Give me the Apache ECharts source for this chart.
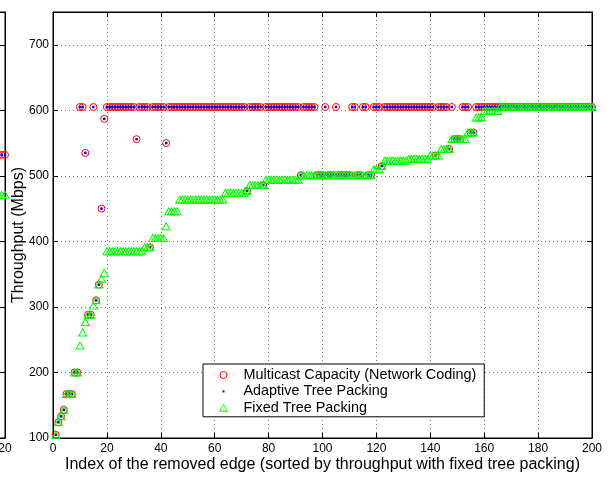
<!DOCTYPE html>
<html><head><meta charset="utf-8">
<script src="https://cdn.jsdelivr.net/npm/echarts@6/dist/echarts.min.js"></script>
<style>html,body{margin:0;padding:0;background:#fff}#c{width:610px;height:479px}</style>
</head><body><div id="c"></div>
<script>
// ---- data ----
const seriesNames = ['Multicast Capacity (Network Coding)', 'Adaptive Tree Packing', 'Fixed Tree Packing'];

// index of the removed edge, 1..200
const edgeIndex = Array.from({length: 200}, (_, i) => i + 1);

const multicastCapacity = [
  105,124,133,143,167,167,167,200,200,605,
  605,535,288,288,605,310,334,450,587,605,
  605,605,605,605,605,605,605,605,605,605,
  556,605,605,605,605,391,605,605,605,605,
  605,550,605,605,605,605,605,605,605,605,
  605,605,605,605,605,605,605,605,605,605,
  605,605,605,605,605,605,605,605,605,605,
  605,477,605,605,605,605,605,486,605,605,
  605,605,605,605,605,605,605,605,605,605,
  605,501,605,605,605,605,605,501,501,501,
  605,501,501,501,605,501,501,501,501,501,
  605,605,501,501,605,605,501,501,605,605,
  605,515,605,605,605,605,605,605,605,605,
  605,605,605,605,605,605,605,605,605,605,
  605,531,605,605,605,605,541,605,556,556,
  556,605,605,605,566,566,605,605,605,605,
  605,605,605,605,605,605,605,605,605,605,
  605,605,605,605,605,605,605,605,605,605,
  605,605,605,605,605,605,605,605,605,605,
  605,605,605,605,605,605,605,605,605,605
];

const adaptiveTreePacking = [
  105,124,133,143,167,167,167,200,200,605,
  605,535,288,288,605,310,334,450,587,605,
  605,605,605,605,605,605,605,605,605,605,
  556,605,605,605,605,391,605,605,605,605,
  605,550,605,605,605,605,605,605,605,605,
  605,605,605,605,605,605,605,605,605,605,
  605,605,605,605,605,605,605,605,605,605,
  605,477,605,605,605,605,605,486,605,605,
  605,605,605,605,605,605,605,605,605,605,
  605,501,605,605,605,605,605,501,501,501,
  605,501,501,501,605,501,501,501,501,501,
  605,605,501,501,605,605,501,501,605,605,
  605,515,605,605,605,605,605,605,605,605,
  605,605,605,605,605,605,605,605,605,605,
  605,531,605,605,605,605,541,605,556,556,
  556,605,605,605,566,566,605,605,605,605,
  605,605,605,605,605,605,605,605,605,605,
  605,605,605,605,605,605,605,605,605,605,
  605,605,605,605,605,605,605,605,605,605,
  605,605,605,605,605,605,605,605,605,605
];

const fixedTreePacking = [
  105,124,133,143,167,167,167,200,200,241,
  261,277,288,288,302,310,334,343,352,385,
  385,385,385,385,385,385,385,385,385,385,
  385,385,385,391,391,391,405,405,405,405,
  405,423,446,446,446,446,464,464,464,464,
  464,464,464,464,464,464,464,464,464,464,
  464,464,464,474,474,474,474,474,474,474,
  474,477,486,486,486,486,486,486,494,494,
  494,494,494,494,494,494,494,494,494,494,
  494,501,501,501,501,501,501,501,501,501,
  501,501,501,501,501,501,501,501,501,501,
  501,501,501,501,501,501,501,501,510,510,
  510,515,523,523,523,523,523,523,523,523,
  523,526,526,526,526,526,526,526,526,531,
  531,531,531,541,541,541,541,556,556,556,
  556,556,556,566,566,566,589,589,589,599,
  599,599,599,599,599,605,605,605,605,605,
  605,605,605,605,605,605,605,605,605,605,
  605,605,605,605,605,605,605,605,605,605,
  605,605,605,605,605,605,605,605,605,605
];

// the cut-off neighbouring panel at the far left
const leftPanelIndex = [19.5, 19.75, 20];
const leftPanelCapacity = [532, 532, 532];
const leftPanelAdaptive = [532, 532, 532];
const leftPanelFixed = [471, 471, 471];

// ---- chart ----
const FONT = 'Liberation Sans, Arial, Helvetica, sans-serif';
const pairs = (xs, ys) => xs.map((x, i) => [x, ys[i]]);

const redStyle = {color: 'rgba(0,0,0,0)', borderColor: '#ff0000', borderWidth: 1, opacity: 1};
const blueStyle = {color: '#0000ff', borderWidth: 0, opacity: 1};
const greenStyle = {color: 'rgba(0,0,0,0)', borderColor: '#00ff00', borderWidth: 1, opacity: 1};

const gridLine = {show: true, lineStyle: {color: '#777', width: 1, type: [1, 3]}};
const blackLine = {show: true, onZero: false, lineStyle: {color: '#000', width: 1}};
const inTick = {show: true, inside: true, length: 5, lineStyle: {color: '#000', width: 1}};

const chart = echarts.init(document.getElementById('c'), null, {renderer: 'canvas'});
chart.setOption({
  animation: false,
  backgroundColor: '#fff',
  textStyle: {fontFamily: FONT},
  grid: [
    {left: 53, top: 12, width: 539, height: 426, show: true, borderColor: '#000', borderWidth: 1,
     containLabel: false, outerBoundsMode: 'none'},
    {left: -265, top: 12, width: 270, height: 426, show: true, borderColor: '#000', borderWidth: 1,
     containLabel: false, outerBoundsMode: 'none'}
  ],
  xAxis: [
    {gridIndex: 0, type: 'value', min: 0, max: 200, interval: 20, position: 'bottom',
     axisLine: blackLine, axisTick: inTick, splitLine: gridLine,
     axisLabel: {color: '#000', fontSize: 12, margin: 5, fontFamily: FONT},
     name: 'Index of the removed edge (sorted by throughput with fixed tree packing)',
     nameLocation: 'middle', nameGap: 19, nameMoveOverlap: false,
     nameTextStyle: {color: '#000', fontSize: 16, fontFamily: FONT}},
    {gridIndex: 0, type: 'value', min: 0, max: 200, interval: 20, position: 'top',
     axisLine: blackLine, axisTick: inTick, splitLine: {show: false}, axisLabel: {show: false}},
    {gridIndex: 1, type: 'value', min: 0, max: 20, interval: 20, position: 'bottom',
     axisLine: blackLine, axisTick: inTick, splitLine: {show: false},
     axisLabel: {color: '#000', fontSize: 12, margin: 5, fontFamily: FONT}}
  ],
  yAxis: [
    {gridIndex: 0, type: 'value', min: 100, max: 750, interval: 100, position: 'left',
     axisLine: blackLine, axisTick: inTick, splitLine: gridLine,
     axisLabel: {color: '#000', fontSize: 12, margin: 4, showMaxLabel: false, fontFamily: FONT},
     name: 'Throughput (Mbps)', nameLocation: 'middle', nameGap: 26, nameMoveOverlap: false,
     nameTextStyle: {color: '#000', fontSize: 16, fontFamily: FONT, padding: [0, 20, 0, 0]}},
    {gridIndex: 0, type: 'value', min: 100, max: 750, interval: 100, position: 'right',
     axisLine: blackLine, axisTick: inTick, splitLine: {show: false}, axisLabel: {show: false}},
    {gridIndex: 1, type: 'value', min: 100, max: 750, interval: 100, position: 'right',
     axisLine: blackLine, axisTick: inTick, splitLine: {show: false}, axisLabel: {show: false}}
  ],
  legend: {
    left: 203, top: 364, orient: 'vertical',
    backgroundColor: '#fff', borderColor: '#000', borderWidth: 1, borderRadius: 0,
    padding: [4, 8, 2, 5], itemGap: 2.4, itemWidth: 30, itemHeight: 10,
    selectedMode: false,
    textStyle: {color: '#000', fontSize: 14.4, fontFamily: FONT},
    data: [
      {name: seriesNames[0], icon: 'path://M0,0 M30,10 M11.5,5 a3.5,3.5 0 1,0 7,0 a3.5,3.5 0 1,0 -7,0 Z', itemStyle: redStyle},
      {name: seriesNames[1], icon: 'path://M0,0 M30,10 M14,4 L16,4 L16,6 L14,6 Z', itemStyle: blueStyle},
      {name: seriesNames[2], icon: 'path://M0,0 M30,10 M15,1.5 L19,8.5 L11,8.5 Z', itemStyle: greenStyle}
    ]
  },
  series: [
    {name: seriesNames[0], type: 'scatter', xAxisIndex: 0, yAxisIndex: 0, silent: true,
     symbol: 'circle', symbolSize: 7, itemStyle: redStyle, z: 2,
     data: pairs(edgeIndex, multicastCapacity)},
    {name: seriesNames[1], type: 'scatter', xAxisIndex: 0, yAxisIndex: 0, silent: true,
     symbol: 'rect', symbolSize: 2.5, itemStyle: blueStyle, z: 3,
     data: pairs(edgeIndex, adaptiveTreePacking)},
    {name: seriesNames[2], type: 'scatter', xAxisIndex: 0, yAxisIndex: 0, silent: true,
     symbol: 'triangle', symbolSize: [8, 7], itemStyle: greenStyle, z: 4,
     data: pairs(edgeIndex, fixedTreePacking)},
    {name: seriesNames[0], type: 'scatter', xAxisIndex: 2, yAxisIndex: 2, silent: true,
     symbol: 'circle', symbolSize: 7, itemStyle: redStyle, z: 2,
     data: pairs(leftPanelIndex, leftPanelCapacity)},
    {name: seriesNames[1], type: 'scatter', xAxisIndex: 2, yAxisIndex: 2, silent: true,
     symbol: 'rect', symbolSize: 2.5, itemStyle: blueStyle, z: 3,
     data: pairs(leftPanelIndex, leftPanelAdaptive)},
    {name: seriesNames[2], type: 'scatter', xAxisIndex: 2, yAxisIndex: 2, silent: true,
     symbol: 'triangle', symbolSize: [8, 7], itemStyle: greenStyle, z: 4,
     data: pairs(leftPanelIndex, leftPanelFixed)}
  ]
});
</script>
</body></html>
